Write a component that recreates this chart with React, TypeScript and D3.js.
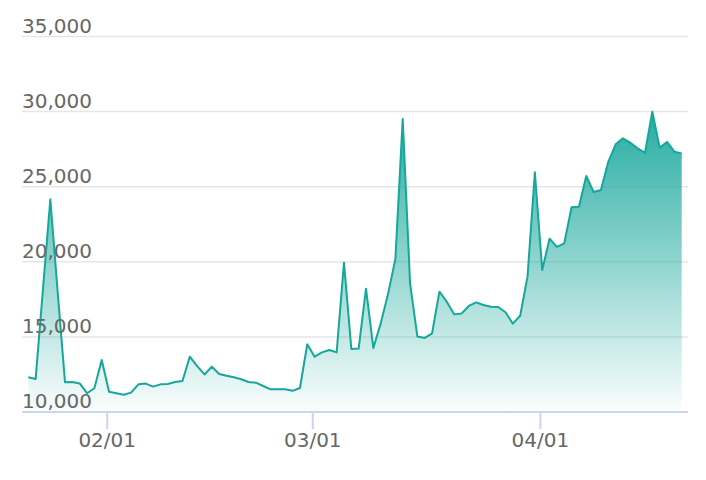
import React from "react";
import * as d3 from "d3";

const START_UTC = Date.UTC(2021, 0, 21, 6);
const VALUES: number[] = [
  12310, 12200, 18200, 24160, 18000, 11980, 12000, 11900, 11250, 11580,
  13460, 11350, 11250, 11150, 11290, 11840, 11890, 11690, 11840, 11860,
  12000, 12060, 13680, 13060, 12500, 13020, 12530, 12420, 12310, 12180,
  12000, 11950, 11730, 11510, 11510, 11510, 11410, 11600, 14510, 13680,
  13970, 14130, 13970, 19940, 14200, 14220, 18210, 14260, 15900, 17850,
  20190, 29510, 18570, 15020, 14930, 15240, 18010, 17340, 16500, 16550,
  17060, 17300, 17120, 17010, 16990, 16640, 15880, 16410, 19010, 25960,
  19450, 21540, 20990, 21230, 23630, 23670, 25710, 24650, 24780, 26660,
  27820, 28220, 27930, 27550, 27260, 29990, 27600, 27980, 27330, 27220,
];
const X_TICKS: string[] = ["2021-02-01", "2021-03-01", "2021-04-01"];
const Y_TICKS: number[] = [10000, 15000, 20000, 25000, 30000, 35000];

const W = 706;
const H = 480;
const PLOT_L = 22;
const PLOT_R = 688;
const PLOT_B = 412;
const PLOT_T = 36.5;
const FONT = "'DejaVu Sans', Verdana, sans-serif";

export default function App() {
  const dates = VALUES.map((_, i) => d3.utcDay.offset(new Date(START_UTC), i));
  const x = d3
    .scaleUtc()
    .domain([dates[0], dates[dates.length - 1]])
    .range([28.3, 681.7]);
  const y = d3.scaleLinear().domain([10000, 35000]).range([PLOT_B, PLOT_T]);

  const data = VALUES.map((v, i) => ({ d: dates[i], v }));
  const line = d3
    .line<{ d: Date; v: number }>()
    .x((p) => x(p.d))
    .y((p) => y(p.v));
  const area = d3
    .area<{ d: Date; v: number }>()
    .x((p) => x(p.d))
    .y0(PLOT_B)
    .y1((p) => y(p.v));

  const fmtY = d3.format(",");
  const fmtX = d3.utcFormat("%m/%d");
  const parse = d3.utcParse("%Y-%m-%d");
  const maxY = y(d3.max(VALUES) as number);

  return (
    <svg
      width={W}
      height={H}
      style={{ position: "absolute", left: 0, top: 0, background: "#fff" }}
      fontFamily={FONT}
    >
      <defs>
        <linearGradient
          id="fillGrad"
          gradientUnits="userSpaceOnUse"
          x1={0}
          y1={maxY}
          x2={0}
          y2={PLOT_B}
        >
          <stop offset="0" stopColor="#13a59a" stopOpacity={0.92} />
          <stop offset="1" stopColor="#13a59a" stopOpacity={0.02} />
        </linearGradient>
      </defs>

      {Y_TICKS.filter((t) => t !== 10000).map((t) => (
        <line
          key={"g" + t}
          x1={PLOT_L}
          x2={PLOT_R}
          y1={y(t)}
          y2={y(t)}
          stroke="#e6e6e6"
          strokeWidth={1.5}
        />
      ))}

      <path d={area(data) as string} fill="url(#fillGrad)" />
      <path
        d={line(data) as string}
        fill="none"
        stroke="#16a79c"
        strokeWidth={2}
        strokeLinejoin="round"
      />

      <line
        x1={PLOT_L}
        x2={PLOT_R}
        y1={PLOT_B}
        y2={PLOT_B}
        stroke="#ccd6eb"
        strokeWidth={2}
      />
      {X_TICKS.map((s) => {
        const d = parse(s) as Date;
        const px = x(d);
        return (
          <g key={s}>
            <line
              x1={px}
              x2={px}
              y1={PLOT_B}
              y2={PLOT_B + 17}
              stroke="#ccd6eb"
              strokeWidth={2}
            />
            <text
              x={px}
              y={447}
              textAnchor="middle"
              fontSize={20}
              fill="#666666"
            >
              {fmtX(d)}
            </text>
          </g>
        );
      })}

      {Y_TICKS.map((t) => (
        <text
          key={"l" + t}
          x={PLOT_L}
          y={y(t) - 4}
          fontSize={20}
          fill="#666666"
        >
          {fmtY(t)}
        </text>
      ))}
    </svg>
  );
}
